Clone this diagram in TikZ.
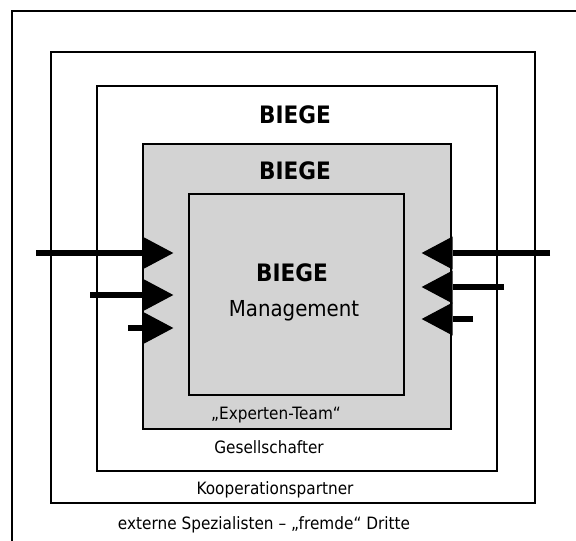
\documentclass[tikz,border=0pt]{standalone}
\usepackage{fontspec}
\setmainfont{DejaVu Sans}[FakeStretch=0.9]
\usepackage{tikz}
\usetikzlibrary{arrows.meta,positioning}
\definecolor{biegegrau}{HTML}{D3D3D3}
\tikzset{
	rahmen/.style = {draw=black, line width=1.3pt, inner sep=0pt},% Kasten
	rahmen_g/.style = {rahmen, fill=biegegrau},% Kasten grau
	titel/.style = {anchor=base, font=\fontsize{24}{28}\selectfont\bfseries},
	text_gr/.style = {anchor=base, font=\fontsize{22}{26}\selectfont},
	text_kl/.style = {anchor=base, font=\fontsize{17}{20}\selectfont},
	pfeil/.style = {line width=6pt, -{Triangle[length=31pt,width=33pt,line width=0pt]}}% Pfeil
}
\begin{document}
\begin{tikzpicture}[x=1pt,y=-1pt]
\useasboundingbox (0,0) rectangle (576,541);
\draw[line width=1.3pt] (12,541) -- (12,11) -- (576,11);% externe Spezialisten
\node[rahmen, minimum width=484pt, minimum height=451pt] (koop) at (293,277.5) {};
\node[rahmen, minimum width=400pt, minimum height=385pt] (gesell) at (297,278.5) {};
\node[rahmen_g, minimum width=308pt, minimum height=285pt] (team) at (297,286.5) {};
\node[rahmen_g, minimum width=215pt, minimum height=201pt] (kern) at (296.5,294.5) {};
% Pfeile
\coordinate (l1) at (36,253); \coordinate (l2) at (90,295); \coordinate (l3) at (128,328);
\coordinate (r1) at (550,253); \coordinate (r2) at (504,287); \coordinate (r3) at (473,319);
\foreach \p in {l1,l2,l3}
	\draw[pfeil] (\p) -- ([xshift=31pt]\p -| team.west);
\foreach \p in {r1,r2,r3}
	\draw[pfeil] (\p) -- ([xshift=-30pt]\p -| team.east);
% Texte
\node[titel] (t_gesell) at (295,123) {BIEGE};
\node[titel] (t_team) at (295,179) {BIEGE};
\node[titel] (t_kern) at (292,281) {BIEGE};
\node[text_gr] (mgmt) at (294,316) {Management};
\node[text_kl] (l_team) at (276,419) {„Experten-Team“};
\node[text_kl] (l_gesell) at (269,453) {Gesellschafter};
\node[text_kl] (l_koop) at (275,494) {Kooperationspartner};
\node[text_kl] (l_extern) at (264,529) {externe Spezialisten – „fremde“ Dritte};
\end{tikzpicture}
\end{document}
